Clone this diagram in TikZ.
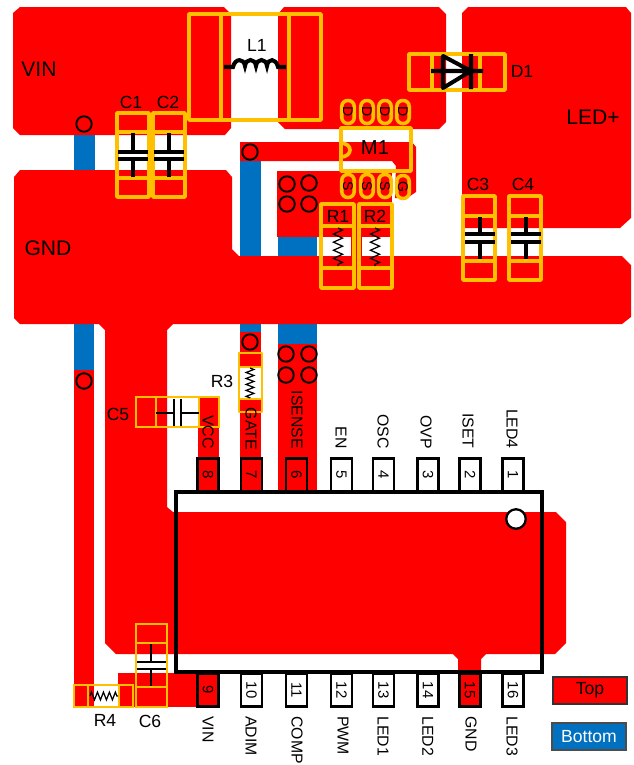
\documentclass[tikz,border=0pt]{standalone}
\usepackage{fontspec}
\setmainfont{Liberation Sans}
\usetikzlibrary{decorations.pathmorphing}
\definecolor{bottomblue}{HTML}{0070C0}
\definecolor{silkyellow}{HTML}{FFC000}
\tikzset{ pad_style/.style = { fill = red % top copper
        , draw = none
        }
        , trace_style/.style = { fill = bottomblue % bottom copper
        , draw = none
        }
        , box_style/.style = { draw = silkyellow % package outline
        , line width = 2.1pt
        , line join = round
        }
        , thin_box_style/.style = { draw = silkyellow
        , line width = 1.1pt
        }
        , symbol_style/.style = { draw = black
        , line width = 2.3pt
        }
        , thin_symbol_style/.style = { draw = black
        , line width = 1pt
        }
        , zigzag_style/.style = { draw = black
        , line width = 0.7pt
        , decorate
        , decoration = {zigzag, amplitude = 2.6pt, segment length = 4.6pt}
        }
        , via_style/.style = { circle
        , draw = black
        , line width = 1.1pt
        , minimum size = 0.31cm
        , inner sep = 0pt
        }
        }

\begin{document}
\begin{tikzpicture}[x=0.02cm, y=-0.02cm,
        pin_style/.style={draw=black,line width=1.5pt,rotate=-90,minimum width=0.66cm,minimum height=0.42cm,inner sep=0pt,font=\fontsize{8.5}{10}\selectfont},
        pin_label_top/.style={rotate=-90,anchor=east,inner sep=0pt,font=\fontsize{9}{10}\selectfont},
        pin_label_bottom/.style={rotate=-90,anchor=west,inner sep=0pt,font=\fontsize{9}{10}\selectfont},
        mos_pin_style/.style={draw=silkyellow,line width=2pt,rounded corners=0.12cm,rotate=-90,minimum width=0.46cm,minimum height=0.25cm,inner sep=0pt,font=\fontsize{8}{9}\selectfont},
        net_label/.style={inner sep=0pt,font=\fontsize{12}{14}\selectfont},
        part_label/.style={inner sep=0pt,font=\fontsize{10}{12}\selectfont}]
        \useasboundingbox (0,0) rectangle (633,765);

        % bottom layer
        \fill [trace_style] (74,130) rectangle (95,175);
        \fill [trace_style] (74,320) rectangle (94,370);
        \fill [trace_style] (240,158) rectangle (261,260);
        \fill [trace_style] (240,320) rectangle (261,334);
        \fill [trace_style] (278,235) rectangle (317,260);
        \fill [trace_style] (278,320) rectangle (317,344);

        % top layer
        \fill [pad_style] (20,7) -- (224,7) -- (231,14) -- (231,128) -- (225,135) -- (20,135) -- (13,128) -- (13,13) -- cycle;
        \fill [pad_style] (284,7) -- (439,7) -- (446,14) -- (446,122) -- (439,129) -- (285,129) -- (278,122) -- (278,14) -- cycle;
        \fill [pad_style] (468,7) -- (626,7) -- (631,13) -- (631,218) -- (620,228) -- (462,228) -- (462,13) -- cycle;
        \fill [pad_style] (20,170) -- (226,170) -- (232,177) -- (232,249) -- (239,256) -- (622,256) -- (631,265) -- (631,317) -- (622,324)
                -- (173,324) -- (167,330) -- (167,507) -- (173,512) -- (556,512) -- (566,522) -- (566,643) -- (555,654)
                -- (486,654) -- (481,659) -- (481,707) -- (458,707) -- (458,659) -- (453,654) -- (116,654) -- (105,643)
                -- (105,330) -- (99,324) -- (20,324) -- (14,318) -- (14,177) -- cycle;
        \fill [pad_style] (240,142) -- (412,142) -- (416,147) -- (416,192) -- (407,198) -- (395,198) -- (396,166) -- (392,161) -- (240,161) -- cycle;
        \fill [pad_style] (277,171) rectangle (392,237);
        \fill [pad_style] (351,237) rectangle (362,256);
        \fill [pad_style] (74,370) rectangle (94,707);
        \fill [pad_style] (118,673) rectangle (219,707);
        \fill [pad_style] (74,685) rectangle (88,707);
        \fill [pad_style] (198,397) rectangle (219,494);
        \fill [pad_style] (240,332) rectangle (261,367);
        \fill [pad_style] (240,399) rectangle (261,494);
        \fill [pad_style] (278,344) rectangle (317,492);

        % vias
        \node [via_style](v1) at (84,124) {};
        \node [via_style](v2) at (250,152) {};
        \node [via_style](v3) at (287,184) {};
        \node [via_style](v4) at (309,183) {};
        \node [via_style](v5) at (287,204) {};
        \node [via_style](v6) at (309,204) {};
        \node [via_style](v7) at (250,342) {};
        \node [via_style](v8) at (286,354) {};
        \node [via_style](v9) at (309,354) {};
        \node [via_style](v10) at (286,375) {};
        \node [via_style](v11) at (309,375) {};
        \node [via_style](v12) at (84,381) {};

        % L1
        \draw [box_style] (189,14) rectangle (321,120) (221,14) -- (221,120) (289,14) -- (289,120);
        \draw [symbol_style] (224,67) -- (233,67) .. controls (235,58) and (244,58) .. (245,66) .. controls (246,58) and (255,58) .. (256,66)
                .. controls (257,58) and (266,58) .. (267,66) .. controls (268,58) and (276,58) .. (278,67) -- (286,67);
        \node [part_label](l1) at (257,45) {L1};

        % C1 to C4
        \draw [box_style] (117,113) rectangle (149,197) (117,132) -- (149,132) (117,178) -- (149,178);
        \draw [box_style] (153,113) rectangle (185,197) (153,132) -- (185,132) (153,178) -- (185,178);
        \draw [box_style] (463,196) rectangle (495,280) (463,216) -- (495,216) (463,261) -- (495,261);
        \draw [box_style] (509,196) rectangle (541,280) (509,216) -- (541,216) (509,261) -- (541,261);
        \draw [symbol_style] (133,133) -- (133,152) (118,152) -- (148,152) (118,159) -- (148,159) (133,159) -- (133,177);
        \draw [symbol_style] (169,133) -- (169,152) (154,152) -- (184,152) (154,159) -- (184,159) (169,159) -- (169,177);
        \draw [symbol_style] (480,217) -- (480,234) (465,234) -- (495,234) (465,242) -- (495,242) (480,242) -- (480,259);
        \draw [symbol_style] (526,217) -- (526,234) (511,234) -- (541,234) (511,242) -- (541,242) (526,242) -- (526,259);
        \node [part_label](c1) at (131,102) {C1};
        \node [part_label](c2) at (168,102) {C2};
        \node [part_label](c3) at (478,184) {C3};
        \node [part_label](c4) at (523,184) {C4};

        % D1
        \draw [box_style] (409,54) rectangle (505,90) (432,54) -- (432,90) (480,54) -- (480,90);
        \draw [symbol_style, line join=round] (431,71) -- (483,71) (443,56) -- (443,88) -- (471,71) -- cycle (471,54) -- (471,89);
        \node [part_label](d1) at (522,71) {D1};

        % M1
        \draw [box_style] (341,128) rectangle (411,171);
        \draw [box_style] (341,143) arc[start angle=90, end angle=-90, x radius=9, y radius=-7];
        \node [net_label,font=\fontsize{11.5}{14}\selectfont](m1) at (375,148) {M1};
        \node [mos_pin_style](md1) at (348,112) {D};
        \node [mos_pin_style](md2) at (367,112) {D};
        \node [mos_pin_style](md3) at (385,112) {D};
        \node [mos_pin_style](md4) at (403,112) {D};
        \node [mos_pin_style](ms1) at (348,186) {S};
        \node [mos_pin_style](ms2) at (367,186) {S};
        \node [mos_pin_style](ms3) at (385,186) {S};
        \node [mos_pin_style](mg) at (403,187) {G};

        % R1 to R4
        \fill [white] (317,237) rectangle (351,256);
        \fill [white] (362,237) rectangle (392,256);
        \draw [box_style] (321,204) rectangle (354,288) (321,226) -- (354,226) (321,268) -- (354,268);
        \draw [box_style] (359,204) rectangle (392,288) (359,226) -- (392,226) (359,268) -- (392,268);
        \draw [zigzag_style] (338,228) -- (338,266);
        \draw [zigzag_style] (375,228) -- (375,266);
        \node [part_label](r1) at (338,216) {R1};
        \node [part_label](r2) at (375,216) {R2};
        \draw [box_style, line width=1.5pt] (239,353) rectangle (262,412) (239,367) -- (262,367) (239,399) -- (262,399);
        \draw [zigzag_style, decoration={zigzag, amplitude=2.2pt, segment length=3.4pt}] (250,368) -- (250,398);
        \node [part_label](r3) at (222,381) {R3};
        \draw [thin_box_style] (74,685) rectangle (133,707) (88,685) -- (88,707) (119,685) -- (119,707);
        \draw [zigzag_style, decoration={zigzag, amplitude=2.2pt, segment length=3.4pt}] (90,696) -- (118,696);
        \node [part_label](r4) at (105,720) {R4};

        % C5 and C6
        \draw [thin_box_style] (136,397) rectangle (219,427) (156,397) -- (156,427) (199,397) -- (199,427);
        \draw [thin_symbol_style] (156,413) -- (174,413) (174,399) -- (174,426) (181,399) -- (181,426) (181,413) -- (199,413);
        \node [part_label](c5) at (118,414) {C5};
        \draw [thin_box_style] (136,624) rectangle (167,707) (136,643) -- (167,643) (136,687) -- (167,687);
        \draw [thin_symbol_style] (151,644) -- (151,662) (137,662) -- (166,662) (137,669) -- (166,669) (151,669) -- (151,686);
        \node [part_label](c6) at (150,721) {C6};

        % package
        \node [pin_style,fill=white](p1) at (513,475) {1};
        \node [pin_style,fill=white](p2) at (470,475) {2};
        \node [pin_style,fill=white](p3) at (428,475) {3};
        \node [pin_style,fill=white](p4) at (383.5,475) {4};
        \node [pin_style,fill=white](p5) at (341.5,475) {5};
        \node [pin_style,fill=red](p6) at (296.5,475) {6};
        \node [pin_style,fill=red](p7) at (251.5,475) {7};
        \node [pin_style,fill=red](p8) at (208,475) {8};
        \node [pin_style,fill=red](p9) at (208,690) {9};
        \node [pin_style,fill=white](p10) at (251.5,690) {10};
        \node [pin_style,fill=white](p11) at (296.5,690) {11};
        \node [pin_style,fill=white](p12) at (341.5,690) {12};
        \node [pin_style,fill=white](p13) at (383.5,690) {13};
        \node [pin_style,fill=white](p14) at (428,690) {14};
        \node [pin_style,fill=red](p15) at (470,690) {15};
        \node [pin_style,fill=white](p16) at (513,690) {16};
        \draw [draw=black, line width=2.3pt] (176,492) rectangle (542,672);
        \node [circle,draw=black,line width=1.3pt,fill=white,minimum size=0.39cm,inner sep=0pt](dot) at (516,519) {};

        % pin names
        \node [pin_label_top](n1) at (512,449) {LED4};
        \node [pin_label_top](n2) at (468,449) {ISET};
        \node [pin_label_top](n3) at (426,449) {OVP};
        \node [pin_label_top](n4) at (383,449) {OSC};
        \node [pin_label_top](n5) at (341,449) {EN};
        \node [pin_label_top](n6) at (297,449) {ISENSE};
        \node [pin_label_top](n7) at (251,450) {GATE};
        \node [pin_label_top](n8) at (208,449) {VCC};
        \node [pin_label_bottom](n9) at (208,716) {VIN};
        \node [pin_label_bottom](n10) at (251,716) {ADIM};
        \node [pin_label_bottom](n11) at (297,716) {COMP};
        \node [pin_label_bottom](n12) at (343,716) {PWM};
        \node [pin_label_bottom](n13) at (383,716) {LED1};
        \node [pin_label_bottom](n14) at (428,716) {LED2};
        \node [pin_label_bottom](n15) at (471,716) {GND};
        \node [pin_label_bottom](n16) at (512,716) {LED3};

        % nets
        \node [net_label](vin) at (39,69) {VIN};
        \node [net_label](gnd) at (48,248) {GND};
        \node [net_label](led) at (593,117) {LED+};

        % legend
        \node [draw=black!80,fill=red,line width=0.7pt,minimum width=1.48cm,minimum height=0.54cm,inner sep=0pt,part_label](top) at (590,690.5) {Top};
        \node [draw=black!70,fill=bottomblue,text=white,line width=0.7pt,minimum width=1.48cm,minimum height=0.54cm,inner sep=0pt,part_label](bottom) at (589,736.5) {Bottom};
        \end{tikzpicture}
\end{document}
